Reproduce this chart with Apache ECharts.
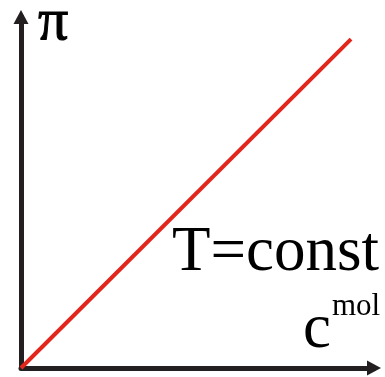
<!DOCTYPE html>
<html>
<head>
<meta charset="utf-8">
<script src="https://cdn.jsdelivr.net/npm/echarts@6/dist/echarts.min.js"></script>
<style>
  html, body { margin: 0; padding: 0; background: #fff; }
  #chart { width: 385px; height: 377px; }
</style>
</head>
<body>
<div id="chart"></div>
<script>
// Osmotic pressure grows linearly with molar concentration at constant temperature
const concentration = [0, 0.935];
const pressure = [0, 0.937];
const axisLabels = { y: 'π', x: 'c', xSup: 'mol', note: 'T=const' };

const axisColor = '#231f20';
const serif = '"Liberation Serif", "DejaVu Serif", serif';

const chart = echarts.init(document.getElementById('chart'), null, { renderer: 'canvas' });

const axisCommon = {
  type: 'value',
  min: 0,
  max: 1,
  splitLine: { show: false },
  axisTick: { show: false },
  axisLabel: { show: false },
  axisLine: {
    show: true,
    symbol: ['none', 'triangle'],
    symbolSize: [15, 14],
    lineStyle: { color: axisColor, width: 5 }
  }
};

chart.setOption({
  animation: false,
  backgroundColor: '#fff',
  grid: { left: 21, right: 11, top: 17, bottom: 9, containLabel: false },
  xAxis: Object.assign({}, axisCommon),
  yAxis: Object.assign({}, axisCommon),
  series: [{
    type: 'line',
    data: concentration.map((c, i) => [c, pressure[i]]),
    symbol: 'none',
    lineStyle: { color: '#e2261c', width: 4 },
    z: 1
  }],
  graphic: [
    { type: 'text', x: 38, y: 23, style: { text: axisLabels.y, font: '60px ' + serif, fill: '#000', textVerticalAlign: 'middle', stroke: '#000', lineWidth: 1 } },
    { type: 'text', x: 172, y: 253, style: { text: axisLabels.note, font: '63px ' + serif, fill: '#000', textVerticalAlign: 'middle' } },
    { type: 'text', x: 303, y: 330, style: { text: axisLabels.x, font: '63px ' + serif, fill: '#000', textVerticalAlign: 'middle' } },
    { type: 'text', x: 332, y: 307, style: { text: axisLabels.xSup, font: '31px ' + serif, fill: '#000', textVerticalAlign: 'middle' } }
  ]
});
</script>
</body>
</html>
